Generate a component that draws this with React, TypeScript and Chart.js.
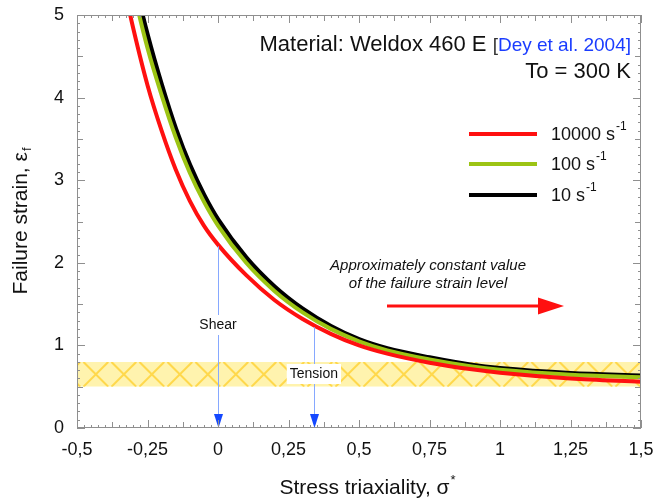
import { useEffect, useRef } from 'react';
import { Chart, registerables } from 'chart.js';

Chart.register(...registerables);

// ---- data ----
const triaxiality = [-0.35, -0.3, -0.25, -0.2, -0.15, -0.1, -0.05, 0, 0.1, 0.2, 0.3, 0.4, 0.5, 0.6, 0.75, 0.9, 1.0, 1.25, 1.5];
const strainRate10000 = [5.6, 4.83, 4.15, 3.6, 3.13, 2.75, 2.45, 2.22, 1.85, 1.55, 1.32, 1.14, 1.0, 0.9, 0.79, 0.71, 0.67, 0.6, 0.56];
const strainRate100 = [6.1, 5.3, 4.6, 4.03, 3.52, 3.09, 2.74, 2.45, 2.0, 1.66, 1.4, 1.2, 1.05, 0.94, 0.83, 0.745, 0.705, 0.645, 0.615];
const strainRate10 = [6.3, 5.45, 4.75, 4.15, 3.62, 3.18, 2.82, 2.52, 2.06, 1.71, 1.44, 1.23, 1.07, 0.96, 0.85, 0.76, 0.72, 0.66, 0.63];
const seriesLabels = ['10000', '100', '10'];
const seriesColors = ['#ff1010', '#9cc414', '#000000'];
const seriesWidths = [4, 4, 5];

const xMin = -0.5;
const xMax = 1.5;
const xStep = 0.25;
const yMin = 0;
const yMax = 5;
const yStep = 1;

// constant-value band
const bandLow = 0.5;
const bandHigh = 0.8;

// stress states
const shearX = 0;
const shearTop = 2.2;
const tensionX = 0.34;
const tensionTop = 1.22;

const FONT = '"Liberation Sans", Arial, Helvetica, sans-serif';

function fmt(v: number): string {
  return String(Math.round(v * 1000) / 1000).replace('.', ',');
}

const decorPlugin = {
  id: 'decor',
  beforeDatasetsDraw(chart: any) {
    const { ctx, chartArea: a, scales } = chart;
    const y = scales.y;
    const top = y.getPixelForValue(bandHigh);
    const bot = y.getPixelForValue(bandLow);
    const h = bot - top;
    ctx.save();
    ctx.beginPath();
    ctx.rect(a.left, top, a.right - a.left, h);
    ctx.clip();
    ctx.fillStyle = '#fff3ae';
    ctx.fillRect(a.left, top, a.right - a.left, h);
    ctx.strokeStyle = '#ffd84c';
    ctx.lineWidth = 2;
    const step = 28;
    for (let sx = a.left - h * 2; sx < a.right + h; sx += step) {
      ctx.beginPath();
      ctx.moveTo(sx, bot);
      ctx.lineTo(sx + h, top);
      ctx.stroke();
      ctx.beginPath();
      ctx.moveTo(sx, top);
      ctx.lineTo(sx + h, bot);
      ctx.stroke();
    }
    ctx.restore();
  },
  afterDatasetsDraw(chart: any) {
    const { ctx, chartArea: a, scales } = chart;
    const x = scales.x;
    const y = scales.y;
    ctx.save();

    // shear / tension arrows
    const drawDown = (xv: number, topV: number) => {
      const px = Math.round(x.getPixelForValue(xv)) + 0.5;
      const t = y.getPixelForValue(topV);
      ctx.strokeStyle = '#86a8ff';
      ctx.lineWidth = 1;
      ctx.beginPath();
      ctx.moveTo(px, t);
      ctx.lineTo(px, a.bottom - 12);
      ctx.stroke();
      ctx.fillStyle = '#1448ff';
      ctx.beginPath();
      ctx.moveTo(px - 4.5, a.bottom - 14);
      ctx.lineTo(px + 4.5, a.bottom - 14);
      ctx.lineTo(px, a.bottom);
      ctx.closePath();
      ctx.fill();
    };
    drawDown(shearX, shearTop);
    drawDown(tensionX, tensionTop);

    const boxLabel = (text: string, cx: number, cy: number) => {
      ctx.font = `14px ${FONT}`;
      const w = ctx.measureText(text).width;
      ctx.fillStyle = '#ffffff';
      ctx.fillRect(cx - w / 2 - 3, cy - 10, w + 6, 20);
      ctx.fillStyle = '#111';
      ctx.textAlign = 'center';
      ctx.textBaseline = 'middle';
      ctx.fillText(text, cx, cy);
    };
    boxLabel('Shear', x.getPixelForValue(shearX), 325);
    boxLabel('Tension', x.getPixelForValue(tensionX), 374);

    // note + red arrow
    ctx.font = `italic 15px ${FONT}`;
    ctx.fillStyle = '#111';
    ctx.textAlign = 'center';
    ctx.textBaseline = 'middle';
    ctx.fillText('Approximately constant value', 428, 266);
    ctx.fillText('of the failure strain level', 428, 284);
    ctx.strokeStyle = '#ff1010';
    ctx.lineWidth = 3;
    ctx.beginPath();
    ctx.moveTo(387, 306);
    ctx.lineTo(542, 306);
    ctx.stroke();
    ctx.fillStyle = '#ff1010';
    ctx.beginPath();
    ctx.moveTo(538, 297.5);
    ctx.lineTo(564, 306);
    ctx.lineTo(538, 314.5);
    ctx.closePath();
    ctx.fill();

    // header text
    ctx.textBaseline = 'alphabetic';
    ctx.textAlign = 'left';
    const right = 631;
    ctx.font = `19px ${FONT}`;
    const refTxt = 'Dey et al. 2004]';
    const wRef = ctx.measureText(refTxt).width;
    const wBr = ctx.measureText('[').width;
    ctx.font = `22px ${FONT}`;
    const matTxt = 'Material: Weldox 460 E ';
    const wMat = ctx.measureText(matTxt).width;
    let sx = right - wRef - wBr - wMat;
    ctx.fillStyle = '#111';
    ctx.fillText(matTxt, sx, 51);
    sx += wMat;
    ctx.font = `19px ${FONT}`;
    ctx.fillStyle = '#333';
    ctx.fillText('[', sx, 51);
    sx += wBr;
    ctx.fillStyle = '#1a3cff';
    ctx.fillText(refTxt, sx, 51);
    ctx.font = `22px ${FONT}`;
    ctx.fillStyle = '#111';
    ctx.textAlign = 'right';
    ctx.fillText('To = 300 K', right, 78);

    // legend
    ctx.textAlign = 'left';
    const legY = [134, 164, 195];
    chart.data.datasets.forEach((ds: any, i: number) => {
      ctx.strokeStyle = ds.borderColor;
      ctx.lineWidth = 4;
      ctx.beginPath();
      ctx.moveTo(469, legY[i]);
      ctx.lineTo(537, legY[i]);
      ctx.stroke();
      ctx.fillStyle = '#111';
      ctx.font = `18px ${FONT}`;
      ctx.textBaseline = 'middle';
      const base = `${seriesLabels[i]} s`;
      ctx.fillText(base, 551, legY[i] + 1);
      const wb = ctx.measureText(base).width;
      ctx.font = `12px ${FONT}`;
      ctx.fillText('-1', 551 + wb + 1, legY[i] - 7);
    });

    // frame and inward ticks
    ctx.strokeStyle = '#8f8f8f';
    ctx.lineWidth = 1;
    ctx.strokeRect(a.left + 0.5, a.top + 0.5, a.right - a.left - 1, a.bottom - a.top - 1);
    ctx.beginPath();
    const nx = Math.round((xMax - xMin) / 0.025);
    for (let i = 0; i <= nx; i++) {
      const v = xMin + i * 0.025;
      const px = Math.round(x.getPixelForValue(v)) + 0.5;
      const len = i % 10 === 0 ? 8 : i % 5 === 0 ? 6 : 3;
      ctx.moveTo(px, a.bottom);
      ctx.lineTo(px, a.bottom - len);
      ctx.moveTo(px, a.top);
      ctx.lineTo(px, a.top + len);
    }
    const ny = Math.round((yMax - yMin) / 0.1);
    for (let i = 0; i <= ny; i++) {
      const v = yMin + i * 0.1;
      const py = Math.round(y.getPixelForValue(v)) + 0.5;
      const len = i % 10 === 0 ? 8 : i % 5 === 0 ? 6 : 3;
      ctx.moveTo(a.left, py);
      ctx.lineTo(a.left + len, py);
      ctx.moveTo(a.right, py);
      ctx.lineTo(a.right - len, py);
    }
    ctx.stroke();

    // axis titles
    ctx.fillStyle = '#111';
    ctx.textBaseline = 'middle';
    ctx.textAlign = 'left';
    // x title
    ctx.font = `21px ${FONT}`;
    const xt = 'Stress triaxiality, \u03c3';
    const wxt = ctx.measureText(xt).width;
    ctx.font = `13px ${FONT}`;
    const wst = ctx.measureText('*').width;
    const xs = 367 - (wxt + wst) / 2;
    ctx.font = `21px ${FONT}`;
    ctx.fillText(xt, xs, 488);
    ctx.font = `13px ${FONT}`;
    ctx.fillText('*', xs + wxt + 1, 480);
    // y title
    ctx.translate(21, (a.top + a.bottom) / 2);
    ctx.rotate(-Math.PI / 2);
    ctx.font = `21px ${FONT}`;
    const yt = 'Failure strain, \u03b5';
    const wyt = ctx.measureText(yt).width;
    ctx.font = `13px ${FONT}`;
    const wsub = ctx.measureText('f').width;
    const ys = -(wyt + wsub) / 2;
    ctx.font = `21px ${FONT}`;
    ctx.fillText(yt, ys, 0);
    ctx.font = `13px ${FONT}`;
    ctx.fillText('f', ys + wyt + 1, 6);
    ctx.restore();
  },
};

export default function App() {
  const ref = useRef<HTMLCanvasElement | null>(null);
  useEffect(() => {
    document.body.style.margin = '0';
    const canvas = ref.current;
    if (!canvas) return;
    const series = [strainRate10000, strainRate100, strainRate10];
    const chart = new Chart(canvas, {
      type: 'line',
      data: {
        datasets: series.map((s, i) => ({
          label: `${seriesLabels[i]} s-1`,
          data: triaxiality.map((t, j) => ({ x: t, y: s[j] })),
          borderColor: seriesColors[i],
          backgroundColor: seriesColors[i],
          borderWidth: seriesWidths[i],
          pointRadius: 0,
          fill: false,
          cubicInterpolationMode: 'monotone' as const,
        })),
      },
      options: {
        animation: false,
        responsive: false,
        layout: { padding: { left: 0, right: 14, top: 15, bottom: 0 } },
        plugins: { legend: { display: false }, tooltip: { enabled: false } },
        scales: {
          x: {
            type: 'linear',
            min: xMin,
            max: xMax,
            grid: { display: false, drawTicks: false },
            border: { display: false },
            ticks: {
              stepSize: xStep,
              padding: 11,
              color: '#111',
              font: { family: FONT, size: 18 },
              maxRotation: 0,
              callback: (v: any) => fmt(Number(v)),
            },
            afterFit: (s: any) => {
              s.height = 72;
              s.paddingLeft = 0;
              s.paddingRight = 0;
            },
          },
          y: {
            type: 'linear',
            min: yMin,
            max: yMax,
            grid: { display: false, drawTicks: false },
            border: { display: false },
            ticks: {
              stepSize: yStep,
              padding: 13,
              color: '#111',
              font: { family: FONT, size: 18 },
              callback: (v: any) => fmt(Number(v)),
            },
            afterFit: (s: any) => {
              s.width = 77;
              s.paddingTop = 0;
              s.paddingBottom = 0;
            },
          },
        },
      },
      plugins: [decorPlugin],
    });
    return () => chart.destroy();
  }, []);
  return (
    <div style={{ width: 655, height: 500, background: '#fff' }}>
      <canvas ref={ref} width={655} height={500} style={{ display: 'block' }} />
    </div>
  );
}
